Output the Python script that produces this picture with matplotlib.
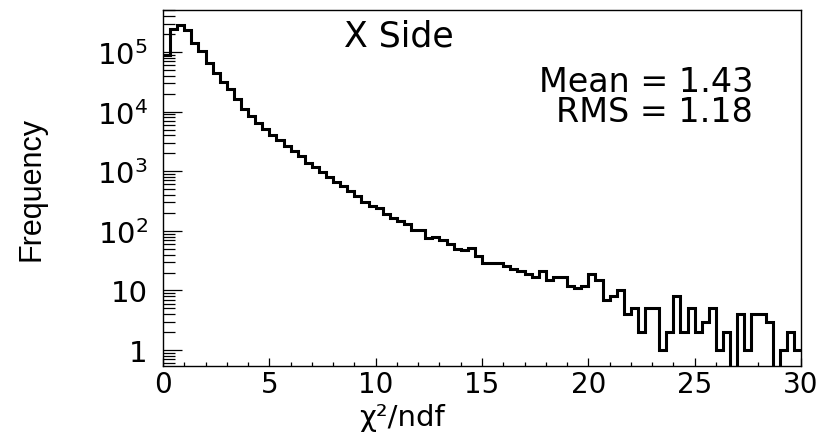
import numpy as np
import matplotlib
matplotlib.use("Agg")
import matplotlib.pyplot as plt
from matplotlib.ticker import FixedLocator, FixedFormatter, MultipleLocator, LogLocator, NullFormatter

# ---------------- data ----------------
x_min, x_max, n_bins = 0.0, 30.0, 90
counts = [
    90000, 240000, 285000, 232000, 140000, 105000, 66000, 44000, 32000, 24000,
    16000, 11000, 8500, 6400, 5100, 4000, 3300, 2600, 2200, 1800,
    1400, 1170, 970, 800, 660, 560, 465, 385, 300, 265,
    240, 190, 165, 145, 130, 105, 103, 76, 78, 71,
    60, 50, 48, 51, 38, 29, 29, 29, 26, 23,
    21, 19, 17, 21, 15, 17, 17, 12, 11, 12,
    19, 15, 7, 8, 10, 4, 5, 2, 5, 5,
    1, 2, 8, 2, 5, 2, 3, 5, 1, 2,
    0, 4, 1, 4, 4, 3, 0, 1, 2, 1,
]
x_ticks = [0, 5, 10, 15, 20, 25, 30]
x_tick_labels = ["0", "5", "10", "15", "20", "25", "30"]
y_ticks = [1, 10, 100, 1000, 10000, 100000]
y_tick_labels = ["1", "10", "$10^{2}$", "$10^{3}$", "$10^{4}$", "$10^{5}$"]
title_text = "X Side"
stats_lines = ["Mean = 1.43", "RMS = 1.18"]
x_label = "\u03c7\u00b2/ndf"
y_label = "Frequency"

# ---------------- figure ----------------
W, H = 828, 435
fig = plt.figure(figsize=(W / 100, H / 100), dpi=100)
L, R, T, B = 163, 801, 11, 367
ax = fig.add_axes([L / W, 1 - B / H, (R - L) / W, (B - T) / H])

edges = np.linspace(x_min, x_max, n_bins + 1)
ax.set_yscale("log", nonpositive="clip")
ax.stairs(np.array(counts, dtype=float), edges, color="black", lw=2.2, baseline=None)

ax.set_xlim(0, 30)
ax.set_ylim(0.54, 5.07e5)

for s in ax.spines.values():
    s.set_linewidth(1.0)

ax.xaxis.set_major_locator(FixedLocator(x_ticks))
ax.xaxis.set_major_formatter(FixedFormatter(x_tick_labels))
ax.xaxis.set_minor_locator(MultipleLocator(1))
ax.yaxis.set_major_locator(FixedLocator(y_ticks))
ax.yaxis.set_major_formatter(FixedFormatter(y_tick_labels))
ax.yaxis.set_minor_locator(LogLocator(base=10, subs=np.arange(2, 10), numticks=20))
ax.yaxis.set_minor_formatter(NullFormatter())

ax.tick_params(axis="x", which="major", direction="in", length=5.8, width=0.9,
               labelsize=20, pad=3, top=False)
ax.tick_params(axis="x", which="minor", direction="in", length=2.9, width=0.9, top=False)
ax.tick_params(axis="y", which="major", direction="in", length=14, width=0.9,
               labelsize=21, pad=11, right=False)
ax.tick_params(axis="y", which="minor", direction="in", length=8.5, width=0.9, right=False)
for lab in ax.get_xticklabels() + ax.get_yticklabels():
    lab.set_family("DejaVu Sans")

ax.set_xlabel(x_label, fontsize=21, family="DejaVu Sans")
ax.xaxis.set_label_coords(0.375, -0.105)
ax.set_ylabel(y_label, fontsize=22, family="Liberation Sans", va="center")
ax.yaxis.set_label_coords((31 - L) / (R - L), 0.5)

ax.text((398.5 - L) / (R - L), (B - 46.7) / (B - T), title_text, transform=ax.transAxes,
        ha="center", va="baseline", fontsize=25, family="DejaVu Sans")
ax.text((753 - L) / (R - L), (B - 66.0) / (B - T), "\n".join(stats_lines),
        transform=ax.transAxes, ha="right", va="top", multialignment="right",
        linespacing=0.87, fontsize=24, family="DejaVu Sans")

fig.savefig("out.png", dpi=100)
